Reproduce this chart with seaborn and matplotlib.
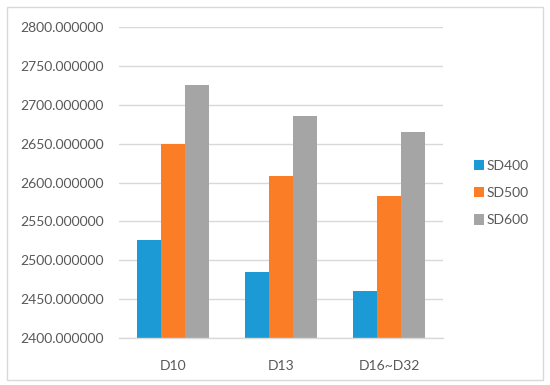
import pandas as pd
import matplotlib.pyplot as plt
import seaborn as sns
from matplotlib.patches import Rectangle

# Datos
categorias = ['D10', 'D13', 'D16~D32']
series = ['SD400', 'SD500', 'SD600']
sd400 = [2526, 2485, 2461]
sd500 = [2649, 2608, 2583]
sd600 = [2726, 2685, 2665]
colores = ['#1c9ad6', '#fb7d26', '#a5a5a5']

df = pd.DataFrame({
    'Categoria': categorias * 3,
    'Serie': [s for s in series for _ in categorias],
    'Valor': sd400 + sd500 + sd600,
})

sns.set_style('white')
plt.rcParams['font.family'] = ['Lato', 'DejaVu Sans']

fig = plt.figure(figsize=(5.5, 3.85), dpi=100)
ax = fig.add_axes([119 / 550, 1 - 338 / 385, 324 / 550, 311 / 385])

sns.barplot(data=df, x='Categoria', y='Valor', hue='Serie', palette=colores,
            width=0.667, gap=0, saturation=1, linewidth=0, ax=ax, zorder=2)

ax.set_ylim(2400, 2800)
ax.set_yticks(range(2400, 2801, 50))
ax.yaxis.set_major_formatter(lambda v, p: f'{v:.6f}')
ax.set_xlabel('')
ax.set_ylabel('')
ax.grid(axis='y', color='#d9d9d9', linewidth=1, zorder=0)
ax.set_axisbelow(True)
for side in ['top', 'right', 'left']:
    ax.spines[side].set_visible(False)
ax.spines['bottom'].set_color('#d9d9d9')
ax.spines['bottom'].set_linewidth(1)
ax.tick_params(axis='both', length=0, labelsize=10, labelcolor='#595959')
ax.tick_params(axis='y', pad=11)
ax.tick_params(axis='x', pad=16)

ax.legend(loc='center left', bbox_to_anchor=(468 / 550, 1 - 193 / 385),
          bbox_transform=fig.transFigure, frameon=False, fontsize=10,
          handlelength=0.75, handleheight=0.75, handletextpad=0.2,
          labelspacing=1.1, labelcolor='#595959', borderaxespad=0)

# Marco exterior del grafico
fig.patches.append(Rectangle((7 / 550, 1 - 380 / 385), 536 / 550, 373 / 385,
                             transform=fig.transFigure, fill=False,
                             edgecolor='#d9d9d9', linewidth=1))

fig.savefig('out.png', dpi=100)
